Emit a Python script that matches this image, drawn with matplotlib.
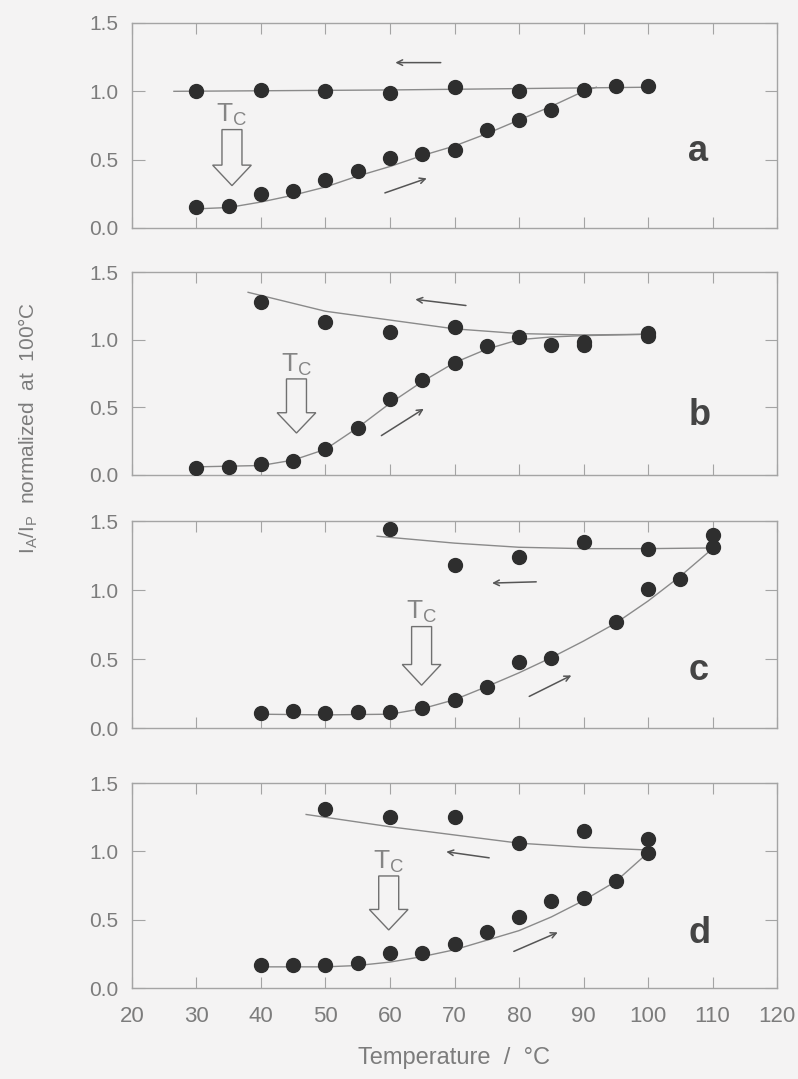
#!/usr/bin/env python3
"""Four-panel I_A/I_P vs temperature plot (heating / cooling cycles)."""

import matplotlib
matplotlib.use("Agg")
import matplotlib.pyplot as plt
from matplotlib.patches import FancyArrow

plt.rcParams["font.family"] = ["Liberation Sans", "DejaVu Sans"]

# ---- data ----
# panel a
A_HEAT_X = [30, 35, 40, 45, 50, 55, 60, 65, 70, 75, 80, 85, 90]
A_HEAT_Y = [0.15, 0.16, 0.25, 0.27, 0.35, 0.42, 0.51, 0.54, 0.57, 0.72, 0.79, 0.86, 1.01]
A_COOL_X = [100, 95, 80, 70, 60, 50, 40, 30]
A_COOL_Y = [1.04, 1.04, 1.00, 1.03, 0.99, 1.00, 1.01, 1.00]
A_FIT_HEAT_X = [30, 35, 40, 45, 50, 55, 60, 65, 70, 75, 80, 85, 90, 92]
A_FIT_HEAT_Y = [0.14, 0.15, 0.19, 0.24, 0.30, 0.38, 0.45, 0.53, 0.60, 0.69, 0.79, 0.89, 1.00, 1.03]
A_FIT_COOL_X = [26.5, 60, 100]
A_FIT_COOL_Y = [1.00, 1.01, 1.03]

# panel b
B_HEAT_X = [30, 35, 40, 45, 50, 55, 60, 65, 70, 75, 80, 85, 90, 100]
B_HEAT_Y = [0.05, 0.06, 0.08, 0.10, 0.19, 0.35, 0.56, 0.70, 0.83, 0.95, 1.02, 0.96, 0.96, 1.03]
B_COOL_X = [100, 90, 70, 60, 50, 40]
B_COOL_Y = [1.05, 0.98, 1.09, 1.06, 1.13, 1.28]
B_FIT_HEAT_X = [30, 40, 45, 50, 55, 60, 65, 70, 75, 80, 85, 90, 100]
B_FIT_HEAT_Y = [0.06, 0.07, 0.11, 0.19, 0.35, 0.53, 0.69, 0.83, 0.93, 1.00, 1.02, 1.03, 1.04]
B_FIT_COOL_X = [38, 50, 60, 70, 80, 90, 100]
B_FIT_COOL_Y = [1.35, 1.21, 1.145, 1.08, 1.045, 1.035, 1.04]

# panel c
C_HEAT_X = [40, 45, 50, 55, 60, 65, 70, 75, 80, 85, 95, 100, 105, 110]
C_HEAT_Y = [0.11, 0.12, 0.11, 0.115, 0.115, 0.145, 0.20, 0.30, 0.48, 0.51, 0.77, 1.01, 1.08, 1.31]
C_COOL_X = [110, 100, 90, 80, 70, 60]
C_COOL_Y = [1.40, 1.30, 1.35, 1.24, 1.18, 1.44]
C_FIT_HEAT_X = [40, 50, 60, 65, 70, 75, 80, 85, 90, 95, 100, 105, 110]
C_FIT_HEAT_Y = [0.10, 0.095, 0.10, 0.14, 0.205, 0.30, 0.40, 0.51, 0.63, 0.76, 0.92, 1.10, 1.30]
C_FIT_COOL_X = [58, 70, 80, 90, 100, 110]
C_FIT_COOL_Y = [1.39, 1.34, 1.31, 1.30, 1.30, 1.305]

# panel d
D_HEAT_X = [40, 45, 50, 55, 60, 65, 70, 75, 80, 85, 90, 95, 100]
D_HEAT_Y = [0.17, 0.165, 0.17, 0.18, 0.255, 0.26, 0.32, 0.41, 0.52, 0.64, 0.66, 0.78, 0.99]
D_COOL_X = [100, 90, 80, 70, 60, 50]
D_COOL_Y = [1.09, 1.15, 1.06, 1.255, 1.255, 1.31]
D_FIT_HEAT_X = [40, 50, 55, 60, 65, 70, 75, 80, 85, 90, 95, 100]
D_FIT_HEAT_Y = [0.155, 0.155, 0.165, 0.19, 0.23, 0.28, 0.35, 0.42, 0.52, 0.64, 0.78, 0.99]
D_FIT_COOL_X = [47, 60, 70, 80, 90, 100]
D_FIT_COOL_Y = [1.27, 1.18, 1.12, 1.06, 1.03, 1.01]

X_TICKS = [20, 30, 40, 50, 60, 70, 80, 90, 100, 110, 120]
Y_TICKS = [0.0, 0.5, 1.0, 1.5]
LETTERS = ["a", "b", "c", "d"]

BG = "#f4f3f3"
DOT = "#2e2e2e"
LINE = "#8a8a8a"
AX = "#a4a4a4"
TXT = "#7c7c7c"

panels = [
    (A_HEAT_X, A_HEAT_Y, A_COOL_X, A_COOL_Y, A_FIT_HEAT_X, A_FIT_HEAT_Y, A_FIT_COOL_X, A_FIT_COOL_Y),
    (B_HEAT_X, B_HEAT_Y, B_COOL_X, B_COOL_Y, B_FIT_HEAT_X, B_FIT_HEAT_Y, B_FIT_COOL_X, B_FIT_COOL_Y),
    (C_HEAT_X, C_HEAT_Y, C_COOL_X, C_COOL_Y, C_FIT_HEAT_X, C_FIT_HEAT_Y, C_FIT_COOL_X, C_FIT_COOL_Y),
    (D_HEAT_X, D_HEAT_Y, D_COOL_X, D_COOL_Y, D_FIT_HEAT_X, D_FIT_HEAT_Y, D_FIT_COOL_X, D_FIT_COOL_Y),
]

# layout (figure fractions)
boxes = [
    [0.1654, 0.7887, 0.8083, 0.1900],
    [0.1654, 0.5598, 0.8083, 0.1881],
    [0.1654, 0.3253, 0.8083, 0.1918],
    [0.1654, 0.0843, 0.8083, 0.1900],
]
# (Tc x, shaft top, tip y), cooling arrow (from, to), heating arrow (from, to), letter pos
marks = [
    ((35.5, 0.72, 0.31), ((68.3, 1.21), (60.4, 1.21)), ((58.8, 0.25), (66.1, 0.37)), (107.8, 0.56)),
    ((45.5, 0.71, 0.31), ((72.2, 1.25), (63.5, 1.30)), ((58.3, 0.28), (65.6, 0.50)), (108.0, 0.44)),
    ((64.9, 0.735, 0.31), ((83.1, 1.06), (75.4, 1.05)), ((81.2, 0.22), (88.5, 0.39)), (107.8, 0.42)),
    ((59.8, 0.82, 0.425), ((75.8, 0.95), (68.3, 1.00)), ((78.8, 0.26), (86.4, 0.415)), (108.0, 0.40)),
]

fig = plt.figure(figsize=(7.98, 10.79), dpi=100, facecolor=BG)

for i, (data, box, mk) in enumerate(zip(panels, boxes, marks)):
    hx, hy, cx, cy, fhx, fhy, fcx, fcy = data
    ax = fig.add_axes(box, facecolor=BG)
    ax.plot(fhx, fhy, color=LINE, lw=1.0, zorder=2)
    ax.plot(fcx, fcy, color=LINE, lw=1.0, zorder=2)
    ax.plot(hx, hy, "o", color=DOT, ms=10, mec=DOT, zorder=3)
    ax.plot(cx, cy, "o", color=DOT, ms=10, mec=DOT, zorder=3)

    ax.set_xlim(20, 120)
    ax.set_ylim(0, 1.5)
    ax.set_xticks(X_TICKS)
    ax.set_yticks(Y_TICKS)
    ax.set_yticklabels([f"{v:.1f}" for v in Y_TICKS])
    for s in ax.spines.values():
        s.set_color(AX)
        s.set_linewidth(1.0)
    ax.tick_params(axis="x", direction="in", top=True, length=8, color=AX,
                   labelsize=16, labelcolor=TXT, pad=13, labelbottom=(i == 3))
    ax.tick_params(axis="y", direction="in", right=True, length=9, color=AX,
                   labelsize=15, labelcolor=TXT, pad=10)

    (tx, ttop, ttip), (c0, c1), (h0, h1), (lx, ly) = mk
    ax.add_patch(FancyArrow(tx, ttop, 0, ttip - ttop, width=3.1, head_width=6.0,
                            head_length=0.15, length_includes_head=True,
                            fc=BG, ec="#707070", lw=1.0, zorder=4))
    ax.text(tx, ttop + 0.01, "T$_\\mathregular{C}$", ha="center", va="bottom",
            fontsize=19, color="#858585", zorder=4)
    ax.annotate("", xy=c1, xytext=c0,
                arrowprops=dict(arrowstyle="->", color="#555555", lw=1.1))
    ax.annotate("", xy=h1, xytext=h0,
                arrowprops=dict(arrowstyle="->", color="#555555", lw=1.1))
    ax.text(lx, ly, LETTERS[i], ha="center", va="center", fontsize=26,
            color="#444444", fontweight="bold")

fig.text(0.035, 0.603, "I$_\\mathregular{A}$/I$_\\mathregular{P}$  normalized  at  100°C",
         rotation=90, ha="center", va="center", fontsize=15, color=TXT)
fig.text(0.569, 0.0195, "Temperature  /  °C", ha="center", va="center",
         fontsize=17, color=TXT)

fig.savefig("out.png", dpi=100, facecolor=BG)
